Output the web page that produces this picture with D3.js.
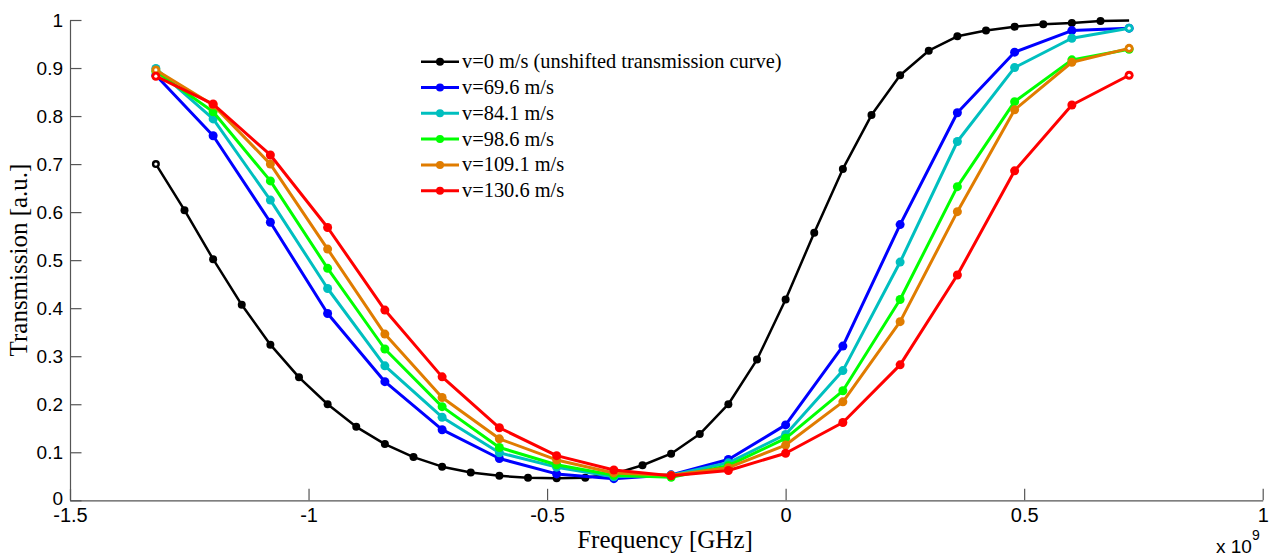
<!DOCTYPE html>
<html>
<head>
<meta charset="utf-8">
<script src="https://cdn.jsdelivr.net/npm/d3@7"></script>
<style>
  html, body { margin: 0; padding: 0; background: #fff; }
  svg { display: block; }
</style>
</head>
<body>
<svg id="chart" width="1271" height="559"></svg>
<script>
// ---------------- DATA ----------------
const freqBlack = [-1.32,-1.26,-1.20,-1.14,-1.08,-1.02,-0.96,-0.90,-0.84,-0.78,-0.72,-0.66,-0.60,-0.54,-0.48,-0.42,-0.36,-0.30,-0.24,-0.18,-0.12,-0.06,0.00,0.06,0.12,0.18,0.24,0.30,0.36,0.42,0.48,0.54,0.60,0.66,0.72];
const v0 = [0.700,0.604,0.502,0.407,0.324,0.256,0.200,0.153,0.117,0.090,0.070,0.058,0.051,0.047,0.046,0.047,0.055,0.073,0.097,0.138,0.200,0.293,0.418,0.557,0.690,0.802,0.885,0.936,0.966,0.978,0.986,0.991,0.994,0.998,0.999];

const freqShifted = [-1.32,-1.20,-1.08,-0.96,-0.84,-0.72,-0.60,-0.48,-0.36,-0.24,-0.12,0.00,0.12,0.24,0.36,0.48,0.60,0.72];
const v69 = [0.885,0.759,0.579,0.389,0.247,0.147,0.087,0.055,0.045,0.053,0.085,0.157,0.321,0.574,0.807,0.933,0.978,0.983];
const v84 = [0.899,0.794,0.625,0.441,0.280,0.173,0.099,0.069,0.049,0.052,0.078,0.137,0.270,0.496,0.747,0.901,0.962,0.983];
const v98 = [0.893,0.809,0.665,0.483,0.315,0.195,0.110,0.074,0.052,0.048,0.072,0.129,0.228,0.418,0.653,0.830,0.917,0.939];
const v109 = [0.896,0.823,0.700,0.523,0.346,0.214,0.128,0.084,0.057,0.052,0.068,0.115,0.205,0.372,0.601,0.813,0.912,0.941];
const v130 = [0.883,0.825,0.719,0.568,0.396,0.257,0.151,0.093,0.063,0.051,0.062,0.098,0.162,0.282,0.469,0.686,0.823,0.885];

const seriesNames = ["v=0 m/s (unshifted transmission curve)","v=69.6 m/s","v=84.1 m/s","v=98.6 m/s","v=109.1 m/s","v=130.6 m/s"];
const seriesColors = ["#000000","#0000ff","#00bfbf","#00ff00","#e07c00","#ff0000"];

const xTicks = [-1.5,-1,-0.5,0,0.5,1];
const xTickLabels = ["-1.5","-1","-0.5","0","0.5","1"];
const yTicks = [0,0.1,0.2,0.3,0.4,0.5,0.6,0.7,0.8,0.9,1];
const yTickLabels = ["0","0.1","0.2","0.3","0.4","0.5","0.6","0.7","0.8","0.9","1"];

// ---------------- CHART ----------------
const series = [
  {x: freqBlack, y: v0},
  {x: freqShifted, y: v69},
  {x: freqShifted, y: v84},
  {x: freqShifted, y: v98},
  {x: freqShifted, y: v109},
  {x: freqShifted, y: v130}
].map((s, i) => ({
  name: seriesNames[i],
  color: seriesColors[i],
  width: i === 0 ? 2.5 : 3,
  r: i === 0 ? 4 : 4.5,
  pts: s.x.map((xv, j) => ({x: xv, y: s.y[j]}))
}));

const svg = d3.select("#chart");
const x = d3.scaleLinear().domain([-1.5, 1]).range([70, 1262.7]);
const y = d3.scaleLinear().domain([0, 1]).range([500.3, 20]);

const sans = "'Liberation Sans', Arial, sans-serif";
const serif = "'Liberation Serif', 'Times New Roman', serif";

// axes
const xAxis = d3.axisBottom(x).tickValues(xTicks)
  .tickFormat((d, i) => xTickLabels[i]).tickSizeInner(-11.5).tickSizeOuter(0).tickPadding(8);
const yAxis = d3.axisLeft(y).tickValues(yTicks)
  .tickFormat((d, i) => yTickLabels[i]).tickSizeInner(-11.5).tickSizeOuter(0).tickPadding(7);

const gx = svg.append("g").attr("transform", `translate(0,${y(0)})`).call(xAxis);
const gy = svg.append("g").attr("transform", `translate(${x(-1.5)},0)`).call(yAxis);
[gx, gy].forEach(g => {
  g.select(".domain").attr("stroke", "#555").attr("stroke-width", 1.2);
  g.selectAll(".tick line").attr("stroke", "#555").attr("stroke-width", 1.2);
  g.selectAll(".tick text").attr("fill", "#000").style("font-family", sans);
});
gx.selectAll(".tick text").style("font-size", "20px");
gy.selectAll(".tick text").style("font-size", "19px");
// the "0" label sits just above the x-axis labels
gy.selectAll(".tick text").filter(d => d === 0).attr("dy", "0.2em");

// lines
const line = d3.line().x(d => x(d.x)).y(d => y(d.y));
const plot = svg.append("g");
series.forEach((s, si) => {
  const g = plot.append("g");
  g.append("path").datum(s.pts)
    .attr("d", line).attr("fill", "none")
    .attr("stroke", s.color).attr("stroke-width", s.width)
    .attr("stroke-linejoin", "round");
  const markerPts = si === 0 ? s.pts.slice(0, s.pts.length - 1) : s.pts;
  g.selectAll("circle.m").data(markerPts).enter().append("circle")
    .attr("class", "m")
    .attr("cx", d => x(d.x)).attr("cy", d => y(d.y))
    .attr("r", s.r).attr("fill", s.color);
  // end markers rendered as rings (white center)
  const ends = si === 0 ? [s.pts[0]] : [s.pts[0], s.pts[s.pts.length - 1]];
  g.selectAll("circle.e").data(ends).enter().append("circle")
    .attr("class", "e")
    .attr("cx", d => x(d.x)).attr("cy", d => y(d.y))
    .attr("r", 1.6).attr("fill", "#fff");
});

// legend
const lg = svg.append("g");
series.forEach((s, i) => {
  const cy = 61.7 + i * 25.8;
  lg.append("line").attr("x1", 421).attr("x2", 459).attr("y1", cy).attr("y2", cy)
    .attr("stroke", s.color).attr("stroke-width", s.width);
  lg.append("circle").attr("cx", 440).attr("cy", cy).attr("r", 4).attr("fill", s.color);
  lg.append("text").attr("x", 462).attr("y", cy + 6.5)
    .style("font-family", serif).style("font-size", "20.4px").attr("fill", "#000")
    .text(s.name);
});

// axis labels
svg.append("text").attr("x", 665).attr("y", 548)
  .attr("text-anchor", "middle").style("font-family", serif).style("font-size", "25px")
  .text("Frequency [GHz]");
svg.append("text").attr("transform", "translate(27,260) rotate(-90)")
  .attr("text-anchor", "middle").style("font-family", serif).style("font-size", "25px")
  .text("Transmission [a.u.]");

// exponent
const ex = svg.append("text").attr("x", 1216).attr("y", 553)
  .style("font-family", sans).style("font-size", "19px").attr("fill", "#000");
ex.append("tspan").text("x 10");
ex.append("tspan").attr("dy", -13).style("font-size", "14px").text("9");
</script>
</body>
</html>
